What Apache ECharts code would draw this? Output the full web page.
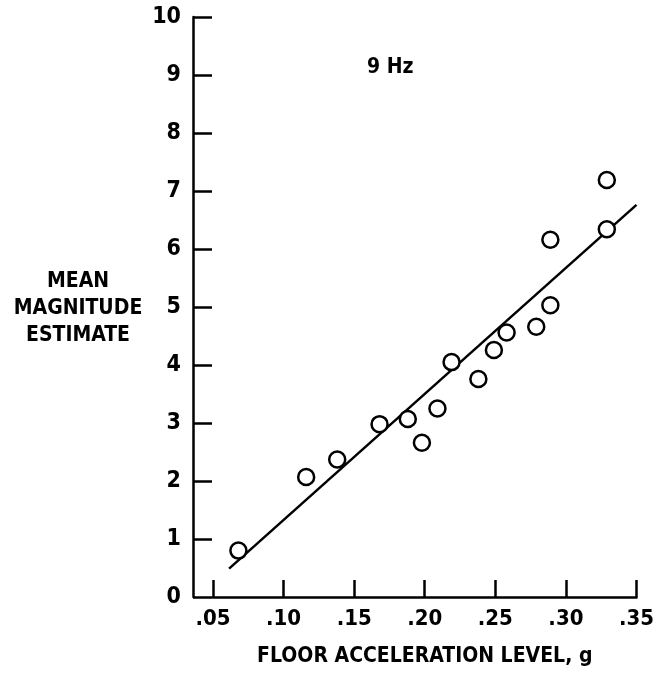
<!DOCTYPE html>
<html>
<head>
<meta charset="utf-8">
<script src="https://cdn.jsdelivr.net/npm/echarts@6/dist/echarts.min.js"></script>
<style>
  html, body { margin: 0; padding: 0; background: #fff; }
  #chart { width: 657px; height: 678px; }
</style>
</head>
<body>
<div id="chart"></div>
<script>
// measured points (floor acceleration g, mean magnitude estimate)
const accel = [0.068, 0.116, 0.138, 0.168, 0.188, 0.198, 0.209, 0.219, 0.238, 0.249, 0.258, 0.279, 0.289, 0.289, 0.329, 0.329];
const magnitude = [0.80, 2.07, 2.37, 2.98, 3.07, 2.66, 3.25, 4.05, 3.76, 4.26, 4.56, 4.66, 5.03, 6.16, 7.19, 6.34];
// fitted line end points
const fitX = [0.0614, 0.35];
const fitY = [0.49, 6.76];
const xTickLabels = ['.05', '.10', '.15', '.20', '.25', '.30', '.35'];
const yTickLabels = ['0', '1', '2', '3', '4', '5', '6', '7', '8', '9', '10'];

const font = "'DejaVu Sans Condensed', 'Liberation Sans Narrow', sans-serif";
const ink = '#000';

const chart = echarts.init(document.getElementById('chart'));
const option = {
  backgroundColor: '#fff',
  animation: false,
  grid: { left: 213, right: 15, top: 17, bottom: 81 },
  xAxis: {
    type: 'value',
    min: 0.05,
    max: 0.35,
    interval: 0.05,
    offset: 3,
    name: 'FLOOR ACCELERATION LEVEL, g',
    nameLocation: 'middle',
    nameGap: 46,
    nameTextStyle: { color: ink, fontFamily: font, fontSize: 21, fontWeight: 'bold' },
    axisLine: { lineStyle: { color: ink, width: 2.5 } },
    axisTick: { inside: true, length: 17, lineStyle: { color: ink, width: 2.5 } },
    axisLabel: {
      color: ink, fontFamily: font, fontSize: 22, fontWeight: 'bold', margin: 8,
      formatter: (v, i) => xTickLabels[i]
    },
    splitLine: { show: false }
  },
  yAxis: {
    type: 'value',
    min: 0,
    max: 10,
    interval: 1,
    offset: 20,
    axisLine: { show: true, lineStyle: { color: ink, width: 2.5 } },
    axisTick: { show: true, inside: true, length: 19, lineStyle: { color: ink, width: 2.5 } },
    axisLabel: {
      color: ink, fontFamily: font, fontSize: 23, fontWeight: 'bold', margin: 12,
      formatter: (v, i) => yTickLabels[i]
    },
    splitLine: { show: false }
  },
  graphic: [
    {
      type: 'text', left: 367, top: 57,
      style: { text: '9 Hz', fill: ink, font: 'bold 21px ' + font }
    },
    {
      type: 'text', x: 78, y: 309,
      style: {
        text: 'MEAN\nMAGNITUDE\nESTIMATE', fill: ink, font: 'bold 21px ' + font,
        align: 'center', verticalAlign: 'middle', lineHeight: 27
      }
    }
  ],
  series: [
    {
      type: 'line',
      data: fitX.map((x, i) => [x, fitY[i]]),
      symbol: 'none',
      lineStyle: { color: ink, width: 2.5 },
      z: 2
    },
    {
      type: 'scatter',
      data: accel.map((x, i) => [x, magnitude[i]]),
      symbol: 'circle',
      symbolSize: 16,
      itemStyle: { color: '#fff', borderColor: ink, borderWidth: 2.5, opacity: 1 },
      z: 3
    }
  ]
};
chart.setOption(option);
</script>
</body>
</html>
